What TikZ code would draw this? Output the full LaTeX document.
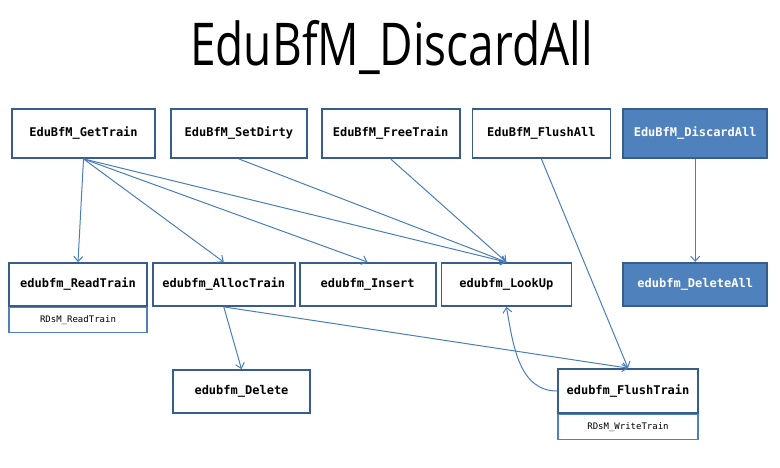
\documentclass[tikz,border=0pt]{standalone}
\usepackage{fontspec}
\usepackage{graphicx}
\setmainfont{Open Sans}
\newfontfamily\codefont{DejaVu Sans Mono}
\usetikzlibrary{arrows.meta,positioning}
\definecolor{boxline}{HTML}{385D8A}
\definecolor{boxfill}{HTML}{4F81BD}
\definecolor{arrowline}{HTML}{4A7EBB}

\begin{document}
\begin{tikzpicture}[x=1pt,y=-1pt,
  font=\codefont\bfseries\fontsize{12}{14}\selectfont,
  fbox/.style={draw=boxline,line width=1.8pt,fill=white,minimum height=49pt,minimum width=#1,inner sep=0pt},
  rbox/.style={fbox=#1,minimum height=43pt},
  hbox/.style={fbox=#1,fill=boxfill,text=white},
  subbox/.style={draw=boxfill,line width=1.2pt,minimum width=#1,minimum height=25pt,inner sep=0pt,
    font=\codefont\mdseries\fontsize{9}{10}\selectfont},
  arr/.style={draw=arrowline,line width=1pt,-{Straight Barb[length=5pt,width=9pt]}}
]
\useasboundingbox (0,0) rectangle (780,467);
\node[anchor=base,font=\rmfamily\mdseries\fontsize{59}{60}\selectfont] (title) at (391.5,65)
  {\scalebox{0.78}[1]{EduBfM\_DiscardAll}};
% top row
\node[fbox=143pt] (gettrain) at (83.5,133.5) {EduBfM\_GetTrain};
\node[fbox=136pt,right=14pt of gettrain] (setdirty) {EduBfM\_SetDirty};
\node[fbox=138pt,right=13pt of setdirty] (freetrain) {EduBfM\_FreeTrain};
\node[fbox=138pt,right=11pt of freetrain] (flushall) {EduBfM\_FlushAll};
\node[hbox=144pt,right=11pt of flushall] (discardall) {EduBfM\_DiscardAll};
% second row
\node[rbox=138pt] (readtrain) at (78,284.5) {edubfm\_ReadTrain};
\node[rbox=142pt,right=4pt of readtrain] (alloctrain) {edubfm\_AllocTrain};
\node[rbox=136pt,right=3pt of alloctrain] (insert) {edubfm\_Insert};
\node[rbox=130pt,right=4pt of insert] (lookup) {edubfm\_LookUp};
\node[hbox=144pt,minimum height=43pt,below=103pt of discardall] (deleteall) {edubfm\_DeleteAll};
\node[subbox=138pt,below=0pt of readtrain] (rdsmread) {RDsM\_ReadTrain};
% third row
\node[rbox=137pt] (delete) at (241.5,391.5) {edubfm\_Delete};
\node[rbox=140pt,minimum height=44pt] (flushtrain) at (628,391) {edubfm\_FlushTrain};
\node[subbox=140pt,below=0pt of flushtrain] (rdsmwrite) {RDsM\_WriteTrain};
% calls
\draw[arr] (gettrain.south) -- (readtrain.north);
\draw[arr] (gettrain.south) -- (alloctrain.north);
\draw[arr] (gettrain.south) -- (insert.north);
\draw[arr] (gettrain.south) -- (lookup.north);
\draw[arr] (setdirty.south) -- (lookup.north);
\draw[arr] (freetrain.south) -- (lookup.north);
\draw[arr] (flushall.south) -- (flushtrain.north);
\draw[arr] (discardall.south) -- (deleteall.north);
\draw[arr] (alloctrain.south) -- (delete.north);
\draw[arr] (alloctrain.south) -- (flushtrain.north);
\draw[arr] (flushtrain.west) to[out=180,in=-80] (lookup.south);
\end{tikzpicture}
\end{document}
